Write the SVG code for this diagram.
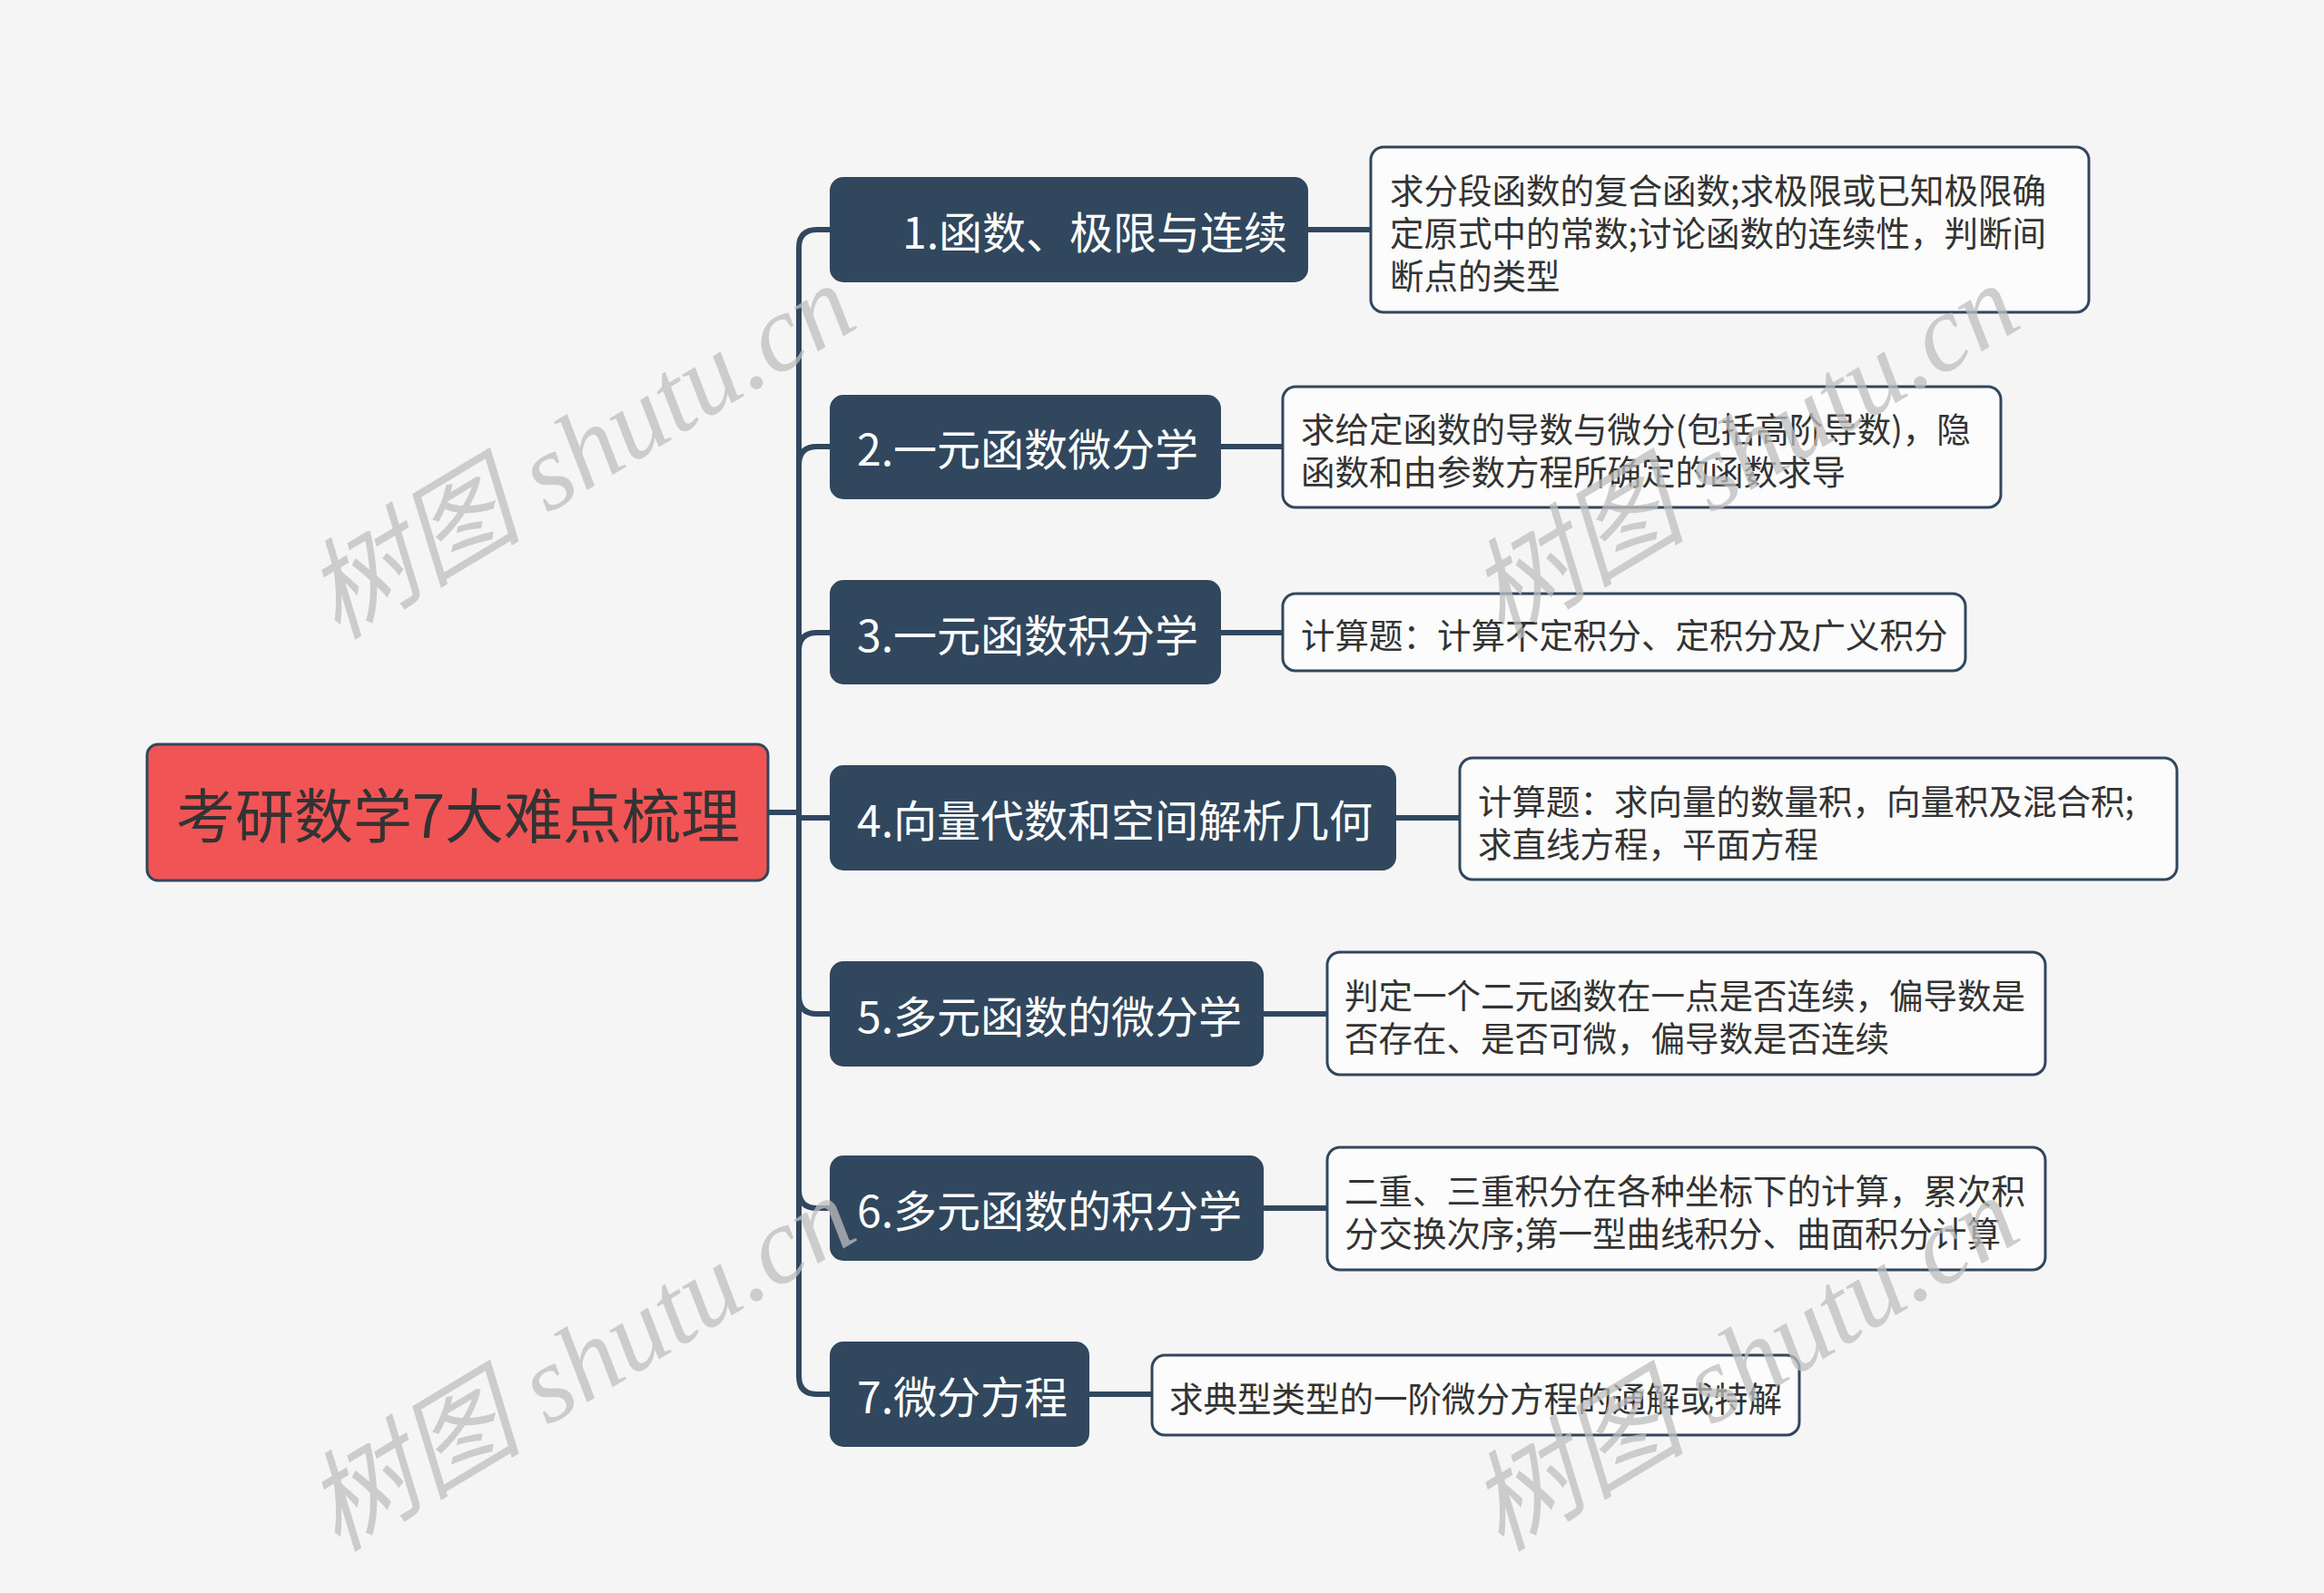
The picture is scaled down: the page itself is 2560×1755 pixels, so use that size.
<svg xmlns="http://www.w3.org/2000/svg" width="2560" height="1755" viewBox="0 0 2560 1755">
<style>
.bg{fill:#f5f5f5}
.root{fill:#f05454;stroke:#30475e;stroke-width:3}
.root-t{font-family:"Noto Sans CJK SC","Noto Sans",sans-serif;font-size:65px;fill:#333333;dominant-baseline:central}
.br{fill:#30475e;stroke:#30475e;stroke-width:2}
.br-t{font-family:"Noto Sans CJK SC","Noto Sans",sans-serif;font-size:48px;fill:#ffffff;dominant-baseline:central}
.lf{fill:#fcfcfc;stroke:#30475e;stroke-width:3}
.lf-t{font-family:"Noto Sans CJK SC","Noto Sans",sans-serif;font-size:37.5px;fill:#333333;dominant-baseline:central}
.con{fill:none;stroke:#30475e;stroke-width:6}
.wm{font-family:"Liberation Serif","Noto Sans CJK SC",serif;font-style:italic;font-size:120px;fill:#bdbdbd;fill-opacity:0.75}
</style>
<rect class="bg" x="0" y="0" width="2560" height="1755"/>
<g id="connectors">
<path class="con" d="M846 895 H880"/>
<path class="con" d="M880 895 V273 Q880 253 900 253 H914"/>
<path class="con" d="M880 895 V512 Q880 492 900 492 H914"/>
<path class="con" d="M880 895 V717 Q880 697 900 697 H914"/>
<path class="con" d="M880 895 V901 H914"/>
<path class="con" d="M880 895 V1097 Q880 1117 900 1117 H914"/>
<path class="con" d="M880 895 V1311 Q880 1331 900 1331 H914"/>
<path class="con" d="M880 895 V1516 Q880 1536 900 1536 H914"/>
<path class="con" d="M1440 253 H1510"/>
<path class="con" d="M1344 492 H1412"/>
<path class="con" d="M1344 697 H1412"/>
<path class="con" d="M1538 901 H1607"/>
<path class="con" d="M1391 1117 H1462"/>
<path class="con" d="M1391 1331 H1462"/>
<path class="con" d="M1199 1536 H1269"/>
</g>
<g id="root">
<rect class="root" x="162" y="820" width="684" height="150" rx="12"/>
<text class="root-t" x="194" y="895">考研数学7大难点梳理</text>
</g>
<g id="b1">
<rect class="br" x="915" y="196" width="525" height="114" rx="14"/>
<text class="br-t" x="994" y="253">1.函数、极限与连续</text>
</g>
<g id="b2">
<rect class="br" x="915" y="436" width="429" height="113" rx="14"/>
<text class="br-t" x="944" y="492">2.一元函数微分学</text>
</g>
<g id="b3">
<rect class="br" x="915" y="640" width="429" height="113" rx="14"/>
<text class="br-t" x="944" y="697">3.一元函数积分学</text>
</g>
<g id="b4">
<rect class="br" x="915" y="844" width="622" height="114" rx="14"/>
<text class="br-t" x="944" y="901">4.向量代数和空间解析几何</text>
</g>
<g id="b5">
<rect class="br" x="915" y="1060" width="476" height="114" rx="14"/>
<text class="br-t" x="944" y="1117">5.多元函数的微分学</text>
</g>
<g id="b6">
<rect class="br" x="915" y="1274" width="476" height="114" rx="14"/>
<text class="br-t" x="944" y="1331">6.多元函数的积分学</text>
</g>
<g id="b7">
<rect class="br" x="915" y="1479" width="284" height="114" rx="14"/>
<text class="br-t" x="944" y="1536">7.微分方程</text>
</g>
<g id="l1">
<rect class="lf" x="1510" y="162" width="791" height="182" rx="14"/>
<text class="lf-t" x="1531" y="207">求分段函数的复合函数;求极限或已知极限确</text>
<text class="lf-t" x="1531" y="254">定原式中的常数;讨论函数的连续性，判断间</text>
<text class="lf-t" x="1531" y="301">断点的类型</text>
</g>
<g id="l2">
<rect class="lf" x="1413" y="426" width="791" height="133" rx="14"/>
<text class="lf-t" x="1433" y="470">求给定函数的导数与微分(包括高阶导数)，隐</text>
<text class="lf-t" x="1433" y="517">函数和由参数方程所确定的函数求导</text>
</g>
<g id="l3">
<rect class="lf" x="1413" y="654" width="752" height="85" rx="14"/>
<text class="lf-t" x="1433" y="697">计算题：计算不定积分、定积分及广义积分</text>
</g>
<g id="l4">
<rect class="lf" x="1608" y="835" width="790" height="134" rx="14"/>
<text class="lf-t" x="1628" y="880">计算题：求向量的数量积，向量积及混合积;</text>
<text class="lf-t" x="1628" y="927">求直线方程，平面方程</text>
</g>
<g id="l5">
<rect class="lf" x="1462" y="1049" width="791" height="135" rx="14"/>
<text class="lf-t" x="1481" y="1094">判定一个二元函数在一点是否连续，偏导数是</text>
<text class="lf-t" x="1481" y="1141">否存在、是否可微，偏导数是否连续</text>
</g>
<g id="l6">
<rect class="lf" x="1462" y="1264" width="791" height="135" rx="14"/>
<text class="lf-t" x="1481" y="1309">二重、三重积分在各种坐标下的计算，累次积</text>
<text class="lf-t" x="1481" y="1356">分交换次序;第一型曲线积分、曲面积分计算</text>
</g>
<g id="l7">
<rect class="lf" x="1269" y="1493" width="713" height="88" rx="14"/>
<text class="lf-t" x="1288" y="1538">求典型类型的一阶微分方程的通解或特解</text>
</g>
<g id="watermarks">
<text class="wm" text-anchor="middle" transform="translate(660 532) rotate(-31)">树图 shutu.cn</text>
<text class="wm" text-anchor="middle" transform="translate(1942 532) rotate(-31)">树图 shutu.cn</text>
<text class="wm" text-anchor="middle" transform="translate(660 1537) rotate(-31)">树图 shutu.cn</text>
<text class="wm" text-anchor="middle" transform="translate(1942 1537) rotate(-31)">树图 shutu.cn</text>
</g>
</svg>
